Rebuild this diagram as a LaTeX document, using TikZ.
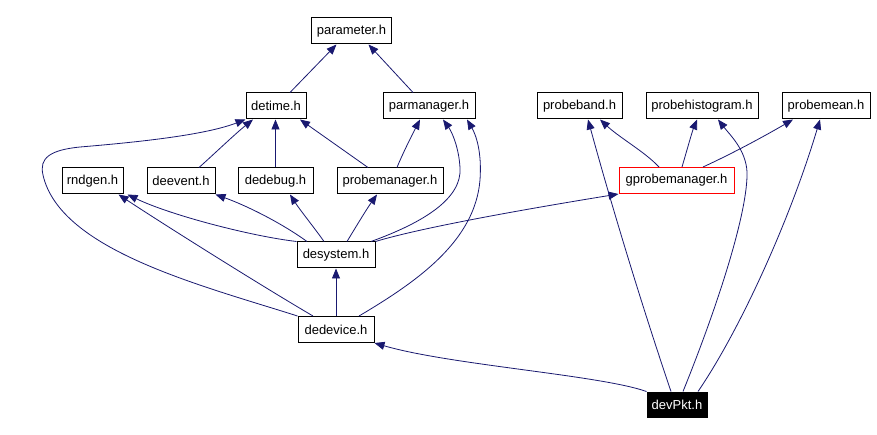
\documentclass[tikz,border=0pt]{standalone}
\usepackage{fontspec}
\setmainfont{Liberation Sans}
\usetikzlibrary{arrows.meta}
\definecolor{edgeblue}{HTML}{191970}
\definecolor{boxred}{HTML}{FF0000}
\begin{document}
\begin{tikzpicture}[x=1pt,y=-1pt,
  file/.style={draw=black, line width=1pt, rectangle, minimum height=26pt, inner sep=0pt, font=\fontsize{13}{15}\selectfont, fill=white},
  edge/.style={draw=edgeblue, line width=0.8pt, -{Triangle[length=10pt,width=8pt]}},
]
\useasboundingbox[fill=white] (0,0) rectangle (877,435);
% nodes
\node[file, minimum width=80pt] (parameter) at (351.5,31) {parameter.h};
\node[file, minimum width=60pt] (detime) at (276,106) {detime.h};
\node[file, minimum width=92pt] (parmanager) at (429,106) {parmanager.h};
\node[file, minimum width=61pt] (rndgen) at (92.5,181) {rndgen.h};
\node[file, minimum width=68pt] (deevent) at (181,181) {deevent.h};
\node[file, minimum width=75pt] (dedebug) at (275.5,181) {dedebug.h};
\node[file, minimum width=106pt] (probemanager) at (390,181) {probemanager.h};
\node[file, minimum width=78pt] (desystem) at (336,255) {desystem.h};
\node[file, minimum width=76pt] (dedevice) at (336,329.5) {dedevice.h};
\node[file, minimum width=85pt] (probeband) at (579.5,106) {probeband.h};
\node[file, minimum width=112pt] (probehistogram) at (702,106) {probehistogram.h};
\node[file, minimum width=88pt] (probemean) at (826,106) {probemean.h};
\node[file, draw=boxred, minimum width=115pt] (gprobemanager) at (676.5,180.5) {gprobemanager.h};
\node[file, fill=black, text=white, minimum width=60pt, minimum height=25pt] (devpkt) at (677,404.5) {devPkt.h};
% edges
\draw[edge] ([xshift=14pt]detime.north) -- ([xshift=-15pt]parameter.south);
\draw[edge] ([xshift=-16pt]parmanager.north) -- ([xshift=17pt]parameter.south);
\draw[edge] ([xshift=18pt]deevent.north) .. controls (212,156) and (235,134) .. ([xshift=-23pt]detime.south);
\draw[edge] (dedebug.north) -- (dedebug.north |- detime.south);
\draw[edge] ([xshift=-22pt]probemanager.north) -- ([xshift=24pt]detime.south);
\draw[edge] ([xshift=7pt]probemanager.north) .. controls (402,155) and (412,135) .. ([xshift=-9pt]parmanager.south);
\draw[edge] (desystem.north west) .. controls (250,236) and (170,215) .. ([xshift=4pt]rndgen.south east);
\draw[edge] ([xshift=-29pt]desystem.north) .. controls (280,222) and (245,205) .. (deevent.south east);
\draw[edge] ([xshift=-12pt]desystem.north) .. controls (316,230) and (300,210) .. ([xshift=14.5pt]dedebug.south);
\draw[edge] ([xshift=11pt]desystem.north) .. controls (354,230) and (366,210) .. ([xshift=-13pt]probemanager.south);
\draw[edge] ([xshift=35pt]desystem.north) .. controls (425,222) and (462,198) .. (460,168) .. controls (459,148) and (452,132) .. ([xshift=14pt]parmanager.south);
\draw[edge] (desystem.north east) .. controls (420,228) and (520,210) .. (gprobemanager.south west);
\draw[edge] (dedevice.north west) .. controls (200,285) and (60,250) .. (43,175) .. controls (39,158) and (50,150) .. (80,147) .. controls (140,142) and (205,135) .. (detime.south west);
\draw[edge] ([xshift=-23pt]dedevice.north) .. controls (260,285) and (160,222) .. ([xshift=-5pt]rndgen.south east);
\draw[edge] (dedevice.north) -- (desystem.south);
\draw[edge] ([xshift=23pt]dedevice.north) .. controls (420,280) and (475,240) .. (480,180) .. controls (482,152) and (476,135) .. ([xshift=38pt]parmanager.south);
\draw[edge] (devpkt.north west) .. controls (600,375) and (450,365) .. (dedevice.south east);
\draw[edge] ([xshift=-6pt]devpkt.north) .. controls (640,300) and (610,200) .. ([xshift=8.5pt]probeband.south);
\draw[edge] ([xshift=-17.5pt]gprobemanager.north) .. controls (645,152) and (620,138) .. ([xshift=20.5pt]probeband.south);
\draw[edge] ([xshift=5.5pt]gprobemanager.north) .. controls (687,150) and (692,132) .. ([xshift=-5pt]probehistogram.south);
\draw[edge] ([xshift=6pt]devpkt.north) .. controls (720,300) and (748,210) .. (747,172) .. controls (746,150) and (730,135) .. ([xshift=16pt]probehistogram.south);
\draw[edge] ([xshift=26.5pt]gprobemanager.north) .. controls (740,150) and (775,130) .. ([xshift=-33pt]probemean.south);
\draw[edge] ([xshift=21pt]devpkt.north) .. controls (740,330) and (790,220) .. ([xshift=-6pt]probemean.south);
\end{tikzpicture}
\end{document}
